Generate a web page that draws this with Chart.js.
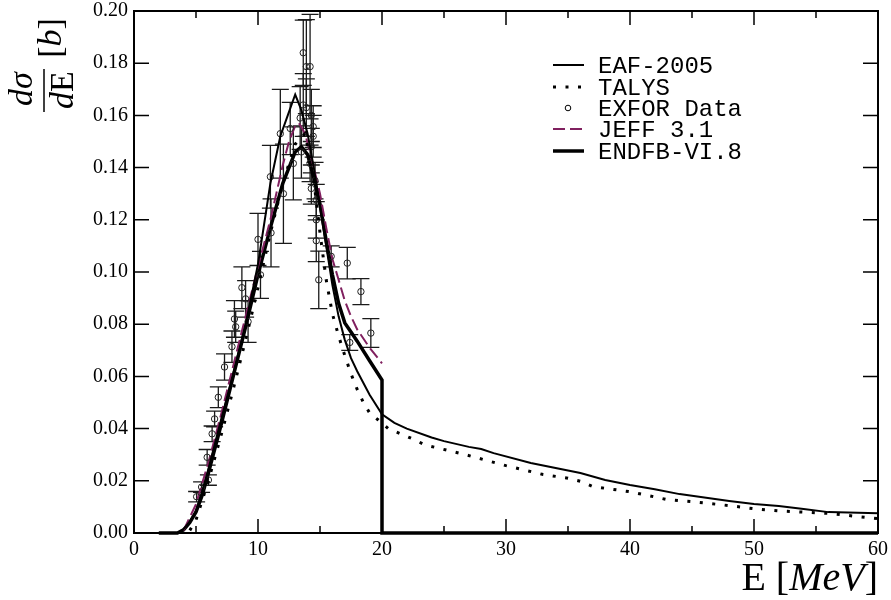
<!DOCTYPE html>
<html>
<head>
<meta charset="utf-8">
<script src="https://cdn.jsdelivr.net/npm/chart.js@4.4.1/dist/chart.umd.min.js"></script>
<style>
  html, body { margin: 0; padding: 0; background: #fff; }
</style>
</head>
<body>
<canvas id="chart" width="891" height="600"></canvas>
<script>
// EAF-2005 (thin solid)
const eafE = [2, 3.5, 4, 4.5, 5, 5.5, 6, 7, 8, 9, 10, 11, 11.8, 12.4, 13, 13.5, 14, 14.5, 15, 15.5, 16, 16.5, 17, 17.5, 18, 19, 20, 21, 22, 24, 25, 27, 28, 29, 32, 36, 38, 40, 42, 44, 48, 50, 52, 54, 56, 60];
const eafY = [0, 0, 0.0015, 0.0045, 0.0085, 0.016, 0.0245, 0.043, 0.061, 0.080, 0.103, 0.134, 0.152, 0.160, 0.168, 0.162, 0.153, 0.140, 0.125, 0.110, 0.095, 0.083, 0.074, 0.067, 0.062, 0.053, 0.0455, 0.0422, 0.040, 0.0366, 0.0352, 0.033, 0.0322, 0.0306, 0.0268, 0.023, 0.0203, 0.0184, 0.0168, 0.0149, 0.0123, 0.0111, 0.0103, 0.0092, 0.0080, 0.0076];

// TALYS (dotted)
const talysE = [4.5, 5, 6, 7, 8, 9, 10, 11, 12, 13, 13.8, 14.5, 15, 15.5, 16, 16.5, 17, 17.5, 18, 18.5, 19, 19.7, 20.5, 21.5, 22.5, 23.5, 26.5, 30, 33, 35, 36, 37, 40, 43, 45, 48, 50, 52, 56, 60];
const talysY = [0.001, 0.005, 0.020, 0.037, 0.055, 0.074, 0.094, 0.115, 0.134, 0.149, 0.153, 0.135, 0.115, 0.097, 0.084, 0.0755, 0.068, 0.061, 0.055, 0.050, 0.046, 0.0433, 0.040, 0.038, 0.036, 0.0337, 0.0303, 0.0258, 0.0224, 0.021, 0.0198, 0.0178, 0.0158, 0.0128, 0.012, 0.0105, 0.0093, 0.0085, 0.0075, 0.0055];

// JEFF 3.1 (dashed purple)
const jeffE = [4, 5, 6, 7, 8, 9, 10, 11, 12, 12.5, 13, 13.3, 13.8, 14.5, 15, 15.5, 16, 16.5, 17, 17.5, 18, 19, 20];
const jeffY = [0.001, 0.011, 0.027, 0.045, 0.064, 0.083, 0.102, 0.120, 0.141, 0.150, 0.156, 0.157, 0.153, 0.140, 0.130, 0.117, 0.105, 0.097, 0.089, 0.083, 0.078, 0.071, 0.065];

// ENDFB-VI.8 (thick solid)
const endfE = [2, 3.5, 4, 4.5, 5, 5.5, 6, 7, 8, 9, 10, 11, 12, 13, 13.5, 14, 14.5, 15, 15.5, 16, 16.5, 17, 17.5, 18, 19, 20, 20, 60];
const endfY = [0, 0, 0.0012, 0.004, 0.008, 0.0145, 0.023, 0.041, 0.060, 0.079, 0.099, 0.117, 0.134, 0.146, 0.148, 0.145, 0.136, 0.126, 0.112, 0.099, 0.088, 0.0805, 0.077, 0.0735, 0.066, 0.0586, 0, 0];

// EXFOR data with errors
const exforE = [5.05, 5.45, 6.0, 5.9, 6.3, 6.5, 6.8, 7.3, 7.9, 8.1, 8.2, 8.7, 9.0, 9.2, 10.2, 10.0, 11.05, 11.0, 12.05, 12.85, 11.8, 12.6, 13.4, 13.5, 13.65, 13.65, 13.9, 14.2, 13.9, 14.3, 14.45, 14.45, 14.3, 14.2, 14.6, 14.3, 14.7, 14.7, 14.7, 14.9, 15.9, 17.2, 18.3, 19.1, 17.4];
const exforY = [0.0139, 0.0176, 0.0203, 0.029, 0.038, 0.0437, 0.052, 0.0636, 0.0714, 0.082, 0.079, 0.094, 0.0897, 0.081, 0.0989, 0.1125, 0.115, 0.1365, 0.130, 0.1416, 0.153, 0.155, 0.159, 0.146, 0.164, 0.184, 0.1787, 0.1787, 0.163, 0.160, 0.1557, 0.152, 0.148, 0.1416, 0.135, 0.132, 0.1276, 0.120, 0.112, 0.097, 0.106, 0.1034, 0.0925, 0.0766, 0.073];
const exforErr = [0.002, 0.002, 0.002, 0.003, 0.003, 0.003, 0.004, 0.005, 0.006, 0.007, 0.006, 0.008, 0.007, 0.008, 0.009, 0.010, 0.013, 0.012, 0.019, 0.014, 0.017, 0.010, 0.012, 0.010, 0.012, 0.0125, 0.018, 0.020, 0.011, 0.010, 0.008, 0.008, 0.007, 0.007, 0.007, 0.006, 0.006, 0.007, 0.008, 0.011, 0.004, 0.006, 0.005, 0.0055, 0.003];

const legendNames = ["EAF-2005", "TALYS", "EXFOR Data", "JEFF 3.1", "ENDFB-VI.8"];
const purple = "#80205f";

const pts = (xs, ys) => xs.map((x, i) => ({ x: x, y: ys[i] }));

// draws a row of text pieces (some italic) centred on x
function drawPieces(ctx, pieces, x, y, size, align) {
  const fontOf = p => (p.italic ? "italic " : "") + size + "px 'Liberation Serif'";
  let total = 0;
  pieces.forEach(p => { ctx.font = fontOf(p); total += ctx.measureText(p.t).width; });
  let cx = align === "right" ? x - total : x - total / 2;
  ctx.textAlign = "left";
  pieces.forEach(p => {
    ctx.font = fontOf(p);
    ctx.fillText(p.t, cx, y);
    cx += ctx.measureText(p.t).width;
  });
}

const decorPlugin = {
  id: "decor",
  beforeDatasetsDraw(chart) {
    // error bars
    const ctx = chart.ctx, xs = chart.scales.x, ys = chart.scales.y;
    ctx.save();
    ctx.strokeStyle = "#1a1a1a";
    ctx.lineWidth = 1.3;
    exforE.forEach((e, i) => {
      const px = xs.getPixelForValue(e);
      const top = ys.getPixelForValue(exforY[i] + exforErr[i]);
      const bot = ys.getPixelForValue(exforY[i] - exforErr[i]);
      ctx.beginPath();
      ctx.moveTo(px, top); ctx.lineTo(px, bot);
      ctx.moveTo(px - 8.5, top); ctx.lineTo(px + 8.5, top);
      ctx.moveTo(px - 8.5, bot); ctx.lineTo(px + 8.5, bot);
      ctx.stroke();
    });
    ctx.restore();
  },
  afterDraw(chart) {
    const ctx = chart.ctx, a = chart.chartArea, xs = chart.scales.x, ys = chart.scales.y;
    ctx.save();
    ctx.strokeStyle = "#000";
    ctx.lineWidth = 2;
    ctx.strokeRect(a.left, a.top, a.right - a.left, a.bottom - a.top);

    // inward ticks
    ctx.lineWidth = 1.5;
    ctx.beginPath();
    for (let v = 0; v <= 60; v += 5) {
      const px = xs.getPixelForValue(v);
      const len = v % 10 === 0 ? 14 : 7;
      ctx.moveTo(px, a.bottom); ctx.lineTo(px, a.bottom - len);
      ctx.moveTo(px, a.top); ctx.lineTo(px, a.top + len);
    }
    for (let k = 0; k <= 10; k++) {
      const py = ys.getPixelForValue(k * 0.02);
      ctx.moveTo(a.left, py); ctx.lineTo(a.left + 15, py);
      ctx.moveTo(a.right, py); ctx.lineTo(a.right - 15, py);
    }
    ctx.stroke();

    // legend
    const rows = [65, 87, 108, 129, 151];
    const ds = chart.data.datasets;
    rows.forEach((ry, i) => {
      const d = ds[i];
      ctx.save();
      if (d.showLine === false) {
        ctx.lineWidth = 1;
        ctx.beginPath();
        ctx.arc(568, ry, 2.8, 0, Math.PI * 2);
        ctx.stroke();
      } else {
        ctx.strokeStyle = d.borderColor;
        ctx.lineWidth = d.borderWidth;
        ctx.setLineDash(d.borderDash || []);
        ctx.beginPath();
        ctx.moveTo(553, ry); ctx.lineTo(584, ry);
        ctx.stroke();
      }
      ctx.restore();
      ctx.fillStyle = "#000";
      ctx.font = "24px 'Liberation Mono'";
      ctx.textAlign = "left";
      ctx.textBaseline = "alphabetic";
      ctx.fillText(legendNames[i], 598, ry + 7.5);
    });

    // x title
    ctx.fillStyle = "#000";
    ctx.textBaseline = "alphabetic";
    drawPieces(ctx, [{ t: "E" }, { t: " [" }, { t: "MeV", italic: true }, { t: "]" }], 878, 590, 40, "right");

    // y title (rotated fraction)
    ctx.save();
    ctx.rotate(-Math.PI / 2);
    drawPieces(ctx, [{ t: "dσ", italic: true }], -89, 32, 34, "center");
    drawPieces(ctx, [{ t: "d", italic: true }, { t: "E" }], -90, 73, 34, "center");
    drawPieces(ctx, [{ t: "[" }, { t: "b", italic: true }, { t: "]" }], -38, 61, 34, "center");
    ctx.lineWidth = 1.5;
    ctx.beginPath();
    ctx.moveTo(-112, 44); ctx.lineTo(-69, 44);
    ctx.stroke();
    ctx.restore();
    ctx.restore();
  }
};

new Chart(document.getElementById("chart"), {
  type: "scatter",
  data: {
    datasets: [
      { label: legendNames[0], data: pts(eafE, eafY), showLine: true, borderColor: "#000", borderWidth: 2, pointRadius: 0, fill: false, clip: false },
      { label: legendNames[1], data: pts(talysE, talysY), showLine: true, borderColor: "#000", borderWidth: 3, borderDash: [3, 9.5], borderCapStyle: "butt", pointRadius: 0, fill: false },
      { label: legendNames[2], data: pts(exforE, exforY), showLine: false, pointRadius: 3.2, borderColor: "#222", borderWidth: 1, backgroundColor: "rgba(255,255,255,0)" },
      { label: legendNames[3], data: pts(jeffE, jeffY), showLine: true, borderColor: purple, borderWidth: 2, borderDash: [12, 5], pointRadius: 0, fill: false },
      { label: legendNames[4], data: pts(endfE, endfY), showLine: true, borderColor: "#000", borderWidth: 3.5, pointRadius: 0, fill: false, clip: false }
    ]
  },
  options: {
    responsive: false,
    animation: false,
    layout: { padding: { top: 11, right: 13, left: 0, bottom: 0 } },
    plugins: { legend: { display: false }, tooltip: { enabled: false } },
    scales: {
      x: {
        type: "linear", min: 0, max: 60,
        ticks: { stepSize: 10, color: "#000", font: { family: "Liberation Serif", size: 20 }, padding: 5, maxRotation: 0 },
        grid: { display: false, drawTicks: false },
        border: { display: false },
        afterFit: s => { s.height = 67; s.paddingLeft = 0; s.paddingRight = 0; }
      },
      y: {
        type: "linear", min: 0, max: 0.2,
        ticks: { stepSize: 0.02, color: "#000", font: { family: "Liberation Serif", size: 20 }, padding: 6, callback: v => v.toFixed(2) },
        grid: { display: false, drawTicks: false },
        border: { display: false },
        afterFit: s => { s.width = 134; s.paddingTop = 0; s.paddingBottom = 0; }
      }
    }
  },
  plugins: [decorPlugin]
});
</script>
</body>
</html>
